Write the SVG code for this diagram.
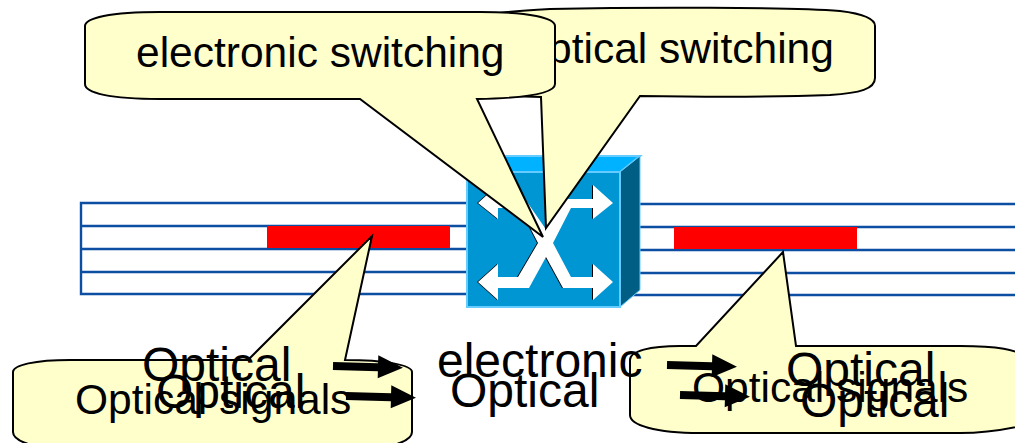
<svg xmlns="http://www.w3.org/2000/svg" width="1015" height="443" viewBox="0 0 1015 443">
<style>
.fibre{stroke:#0b4ea2;stroke-width:2.4;fill:none}
.bar{fill:#ff0000}
.call{fill:#ffffcc;stroke:#000;stroke-width:2;stroke-linejoin:miter}
.arrow{fill:#000}
text{font-family:"Liberation Sans",Arial,sans-serif;fill:#000}
.t42{font-size:42.5px}
.t48{font-size:48px}
</style>
<defs>
<path id="arr" d="M0,-4L45,-4V-12L70,0L45,11V4L0,4Z"/>
<path id="x" d="M478,203L498,185V199H525L545,228L565,199H593V185L613,203L593,219V208H571L553,243L571,277H593V264L613,282L593,300V288H563L546,257L529,288H498V300L478,282L498,264V277H518L538,243L520,208H498V219Z"/>
</defs>
<g id="fibres">
<path class="fibre" d="M466,203H81V294H466M81,226H466M81,249H466M81,272H466"/>
<path class="fibre" d="M640,204H1015M640,227H1015M640,250H1015M640,273H1015M625,295H1015"/>
</g>
<g id="signal-left"><rect class="bar" x="267" y="226" width="183" height="22"/></g>
<g id="signal-right"><rect class="bar" x="674" y="227" width="183" height="22"/></g>
<g id="switch">
<path d="M467,172L491,156H640L620,172Z" fill="#00b2ff" stroke="#66ccff" stroke-width="2"/>
<path d="M620,172L640,156V290L620,307Z" fill="#005d83" stroke="#66ccff" stroke-width="1"/>
<rect x="467" y="172" width="153" height="135" fill="#0095d3" stroke="#66ccff" stroke-width="2"/>
<use href="#x" fill="#000" transform="translate(-1,0)"/>
<use href="#x" fill="#fff"/>
</g>
<g id="callout-optical-switching">
<path class="call" d="M550,9C640,7 790,7 840,11C865,14 875,19 875,26V78C875,89 860,93 830,95C780,97 700,97 640,96L546,228L541,97L480,95V20L495,14C510,11 530,10 550,9Z"/>
<text class="t42" x="515" y="63">Optical switching</text>
</g>
<g id="callout-electronic-switching">
<path class="call" d="M160,12H480C530,12 555,18 555,26V84C555,93 530,98 477,99L543,237L360,99H160C110,99 85,93 85,84V26C85,18 110,12 160,12Z"/>
<text class="t42" x="136" y="67">electronic switching</text>
</g>
<g id="callout-left">
<path class="call" d="M70,360H248L372,236L345,360C385,360 412,365 412,372V432C412,440 395,447 370,449H55C30,447 13,440 13,432V372C13,365 35,360 70,360Z"/>
</g>
<g id="callout-right">
<path class="call" d="M680,346H696L783,252L796,346H960C1000,346 1015,350 1025,356V425C1000,431 980,433 960,433H700C655,433 630,425 630,415V360C630,351 650,346 680,346Z"/>
</g>
<g id="connectors" class="arrow">
<use href="#arr" transform="translate(333,366) rotate(1.5)"/>
<use href="#arr" transform="translate(346,396) rotate(1.5)"/>
<use href="#arr" transform="translate(667,365) rotate(1.5)"/>
<use href="#arr" transform="translate(680,395) rotate(1.5)"/>
</g>
<g id="labels-left">
<text class="t42" x="75" y="414">Optical signals</text>
<text class="t48" x="142" y="381">Optical</text>
<text class="t48" x="156" y="408">Optical</text>
</g>
<g id="labels-centre">
<text class="t48" x="437" y="377">electronic</text>
<text class="t48" x="450" y="407">Optical</text>
</g>
<g id="labels-right">
<text class="t42" x="692" y="402">Optical signals</text>
<text class="t48" x="786" y="386">Optical</text>
<text class="t48" x="800" y="417">Optical</text>
</g>
</svg>
